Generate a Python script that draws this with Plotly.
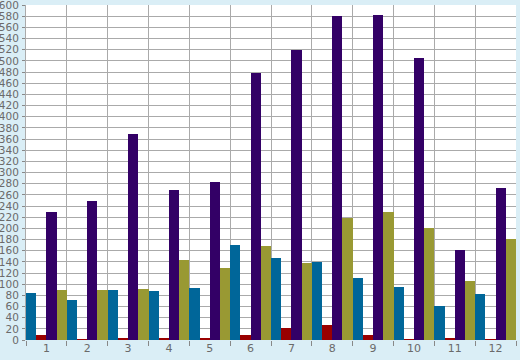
import plotly.graph_objects as go

categories = ["1", "2", "3", "4", "5", "6", "7", "8", "9", "10", "11", "12"]
series_blue = [84, 72, 90, 88, 93, 170, 147, 140, 111, 95, 61, 82]
series_red = [9, 1, 2, 2, 4, 9, 21, 27, 9, 1, 2, 1]
series_purple = [229, 249, 369, 269, 283, 478, 520, 580, 582, 505, 161, 272]
series_olive = [90, 90, 92, 143, 129, 168, 138, 218, 229, 200, 106, 181]

colors = ["#006699", "#990000", "#330066", "#999933"]
names = ["Series 1", "Series 2", "Series 3", "Series 4"]

fig = go.Figure()
for name, vals, col in zip(names, [series_blue, series_red, series_purple, series_olive], colors):
    fig.add_trace(go.Bar(x=categories, y=vals, name=name, marker=dict(color=col, line=dict(width=0))))

fig.update_layout(
    width=520, height=360,
    margin=dict(l=26, r=4, t=5, b=20, autoexpand=False),
    paper_bgcolor="#daeef6",
    plot_bgcolor="#ffffff",
    barmode="group", bargap=0, bargroupgap=0,
    showlegend=False,
    font=dict(family="DejaVu Sans", size=10.5, color="#6a6a6a"),
)
fig.update_xaxes(
    type="category", range=[-0.5, 11.5], automargin=False,
    tickson="boundaries", ticks="outside", ticklen=5, tickcolor="#888888",
    showgrid=True, gridcolor="#aaaaaa", gridwidth=1,
    showline=False, zeroline=False, tickfont=dict(size=11),
)
fig.update_yaxes(
    range=[0, 600], dtick=20, automargin=False,
    ticks="outside", ticklen=3, tickcolor="#888888",
    showgrid=True, gridcolor="#aaaaaa", gridwidth=1,
    showline=True, linecolor="#aaaaaa", zeroline=False, ticklabelstandoff=1,
    ticklabeloverflow="allow",
)
fig.write_html(
    "out.html",
    config={"displayModeBar": False},
    post_script="document.body.style.margin='0';document.body.style.padding='0';document.body.style.overflow='hidden';",
)
